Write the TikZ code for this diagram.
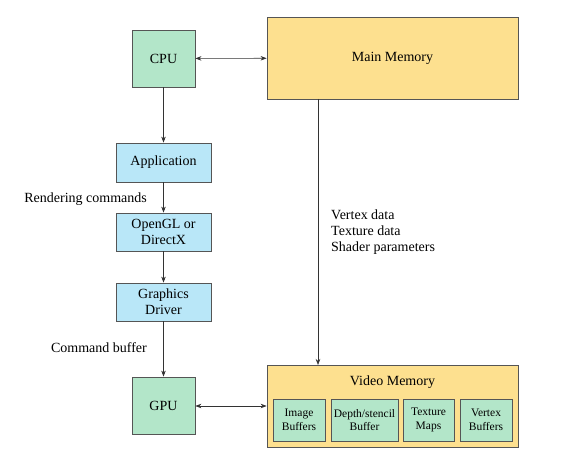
\documentclass[tikz,border=0pt]{standalone}
\usepackage{fontspec}
\setmainfont{Liberation Serif}
\usetikzlibrary{shadows,arrows.meta}
\definecolor{cgreen}{HTML}{B3E6C9}
\definecolor{cyellow}{HTML}{FDE08F}
\definecolor{cblue}{HTML}{B9E7F8}
\definecolor{cedge}{HTML}{555555}
\tikzset{
  box/.style={draw=cedge, line width=0.8pt, inner sep=0pt, align=center, font=\fontsize{14}{16}\selectfont,
    drop shadow={shadow xshift=1.2pt, shadow yshift=-1.2pt, fill=black!45, opacity=0.5}},
  greenbox/.style={box, fill=cgreen},
  bluebox/.style={box, fill=cblue},
  yellowbox/.style={box, fill=cyellow},
  smallbox/.style={greenbox, font=\fontsize{11.5}{13.5}\selectfont},
  lbl/.style={font=\fontsize{14}{16}\selectfont, inner sep=0pt, align=left},
  conn/.style={draw=black!80, line width=0.6pt, -{Stealth[length=6pt,width=4.5pt]}},
  dconn/.style={draw=black!80, line width=0.6pt, {Stealth[length=6pt,width=4.5pt]}-{Stealth[length=6pt,width=4.5pt]}}
}
\begin{document}
\begin{tikzpicture}[x=1pt,y=-1pt]
\useasboundingbox (0,0) rectangle (570,462);
\node[greenbox, minimum width=63pt, minimum height=57pt] (cpu) at (163.5,58.5) {CPU};
\node[yellowbox, minimum width=251pt, minimum height=82pt] (mm) at (392.5,58) {Main Memory};
\node[bluebox, minimum width=95pt, minimum height=39pt] (app) at (163.5,162.5) {Application};
\node[bluebox, minimum width=95pt, minimum height=38pt] (ogl) at (163.5,232) {OpenGL or\\DirectX};
\node[bluebox, minimum width=95pt, minimum height=38pt] (drv) at (163.5,302) {Graphics\\Driver};
\node[greenbox, minimum width=63pt, minimum height=57pt] (gpu) at (163.5,405.5) {GPU};
\node[yellowbox, minimum width=251pt, minimum height=82pt] (vm) at (392.5,406) {};
\node[lbl] (vmt) at (392.5,382) {Video Memory};
\node[smallbox, minimum width=52pt, minimum height=42pt] (ib) at (299,420) {Image\\Buffers};
\node[smallbox, minimum width=67pt, minimum height=42pt] (ds) at (364.5,420) {Depth/stencil\\Buffer};
\node[smallbox, minimum width=51pt, minimum height=42pt] (tm) at (428.5,420) {Texture\\Maps};
\node[smallbox, minimum width=52pt, minimum height=42pt] (vb) at (486,420) {Vertex\\Buffers};
\node[lbl, anchor=east] (rc) at (147,199) {Rendering commands};
\node[lbl, anchor=east] (cb) at (147,348) {Command buffer};
\node[lbl, anchor=west] (vd) at (331,232) {Vertex data\\Texture data\\Shader parameters};
\coordinate (mmb) at (318,99);
\coordinate (vmt0) at (318,365);
\draw[dconn] (cpu) -- (mm);
\draw[conn] (cpu) -- (app);
\draw[conn] (app) -- (ogl);
\draw[conn] (ogl) -- (drv);
\draw[conn] (drv) -- (gpu);
\draw[conn] (mmb) -- (vmt0);
\draw[dconn] (gpu.east |- 0,406) -- (vm.west |- 0,406);
\end{tikzpicture}
\end{document}
